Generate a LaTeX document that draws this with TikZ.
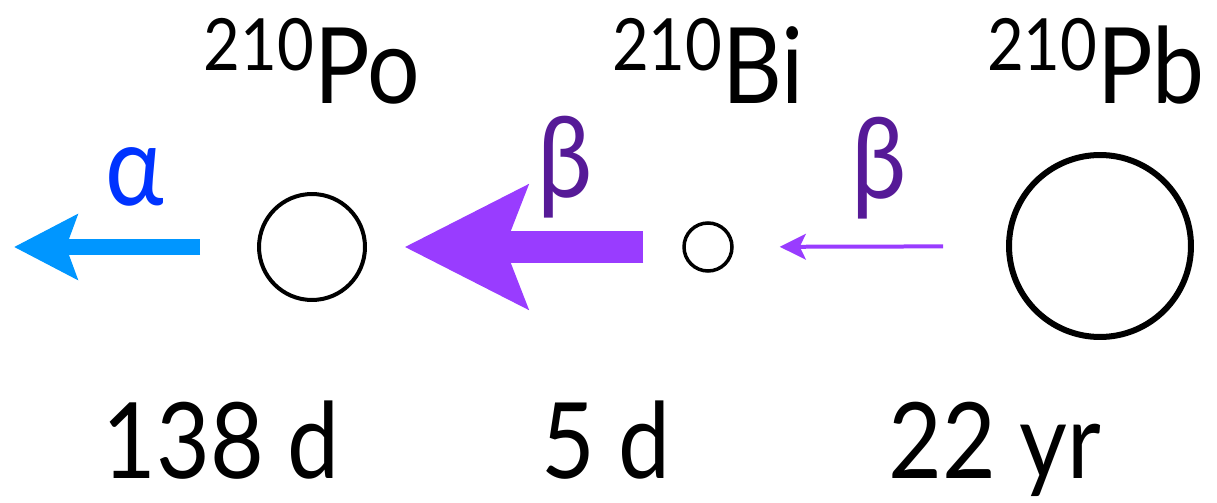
\documentclass[tikz,border=0pt]{standalone}
\usepackage{fontspec}
\setmainfont{Lato}[FakeStretch=0.88]
\usetikzlibrary{arrows.meta}
\definecolor{alphablue}{RGB}{0,150,255}
\definecolor{alphatext}{RGB}{0,51,255}
\definecolor{betaarrow}{RGB}{153,60,255}
\definecolor{betatext}{RGB}{86,26,151}
\newcommand{\isotope}[2]{{\fontsize{41}{41}\selectfont\raisebox{19pt}{#1}}#2}

\begin{document}
\begin{tikzpicture}[x=0.02cm, y=-0.02cm]
        \tikzset{nucleus/.style={circle, draw=black, inner sep=0pt},
        element/.style={anchor=base, font=\fontsize{60}{60}\selectfont},
        halflife/.style={anchor=base, font=\fontsize{60}{60}\selectfont},
        decay/.style={font=\fontsize{64}{64}\selectfont}}
        \useasboundingbox (0,0) rectangle (1217,503);
        % nuclei
        \node[nucleus, minimum size=2.12cm, line width=0.08cm] (po) at (312,247) {};
        \node[nucleus, minimum size=0.96cm, line width=0.07cm] (bi) at (708,247) {};
        \node[nucleus, minimum size=3.64cm, line width=0.12cm] (pb) at (1100,246) {};
        \node[element] at (312,104) {\isotope{210}{Po}};
        \node[element] at (708,104) {\isotope{210}{Bi}};
        \node[element] at (1096,104) {\isotope{210}{Pb}};
        \node[halflife] at (221,478) {138 d};
        \node[halflife] at (606,478) {5 d};
        \node[halflife] at (995,478) {22 yr};
        % decays
        \coordinate (out) at (14,247);
        \draw[alphablue, line width=0.32cm, shorten <=1.14cm,
            -{Stealth[length=1.26cm, width=1.28cm, inset=0.22cm]}] (po) -- (out);
        \draw[betaarrow, line width=0.64cm, shorten <=0.78cm, shorten >=0.75cm,
            -{Stealth[length=2.44cm, width=2.42cm, inset=0.44cm]}] (bi) -- (po);
        \draw[betaarrow, line width=0.08cm, shorten <=1.26cm, shorten >=0.92cm,
            -{Stealth[length=0.52cm, width=0.51cm, inset=0.12cm]}] (pb) -- (bi);
        \node[decay, text=alphatext] (alpha) at (135,177) {α};
        \node[decay, text=betatext] (beta1) at (565,167) {β};
        \node[decay, text=betatext] (beta2) at (879,168) {β};
\end{tikzpicture}
\end{document}
